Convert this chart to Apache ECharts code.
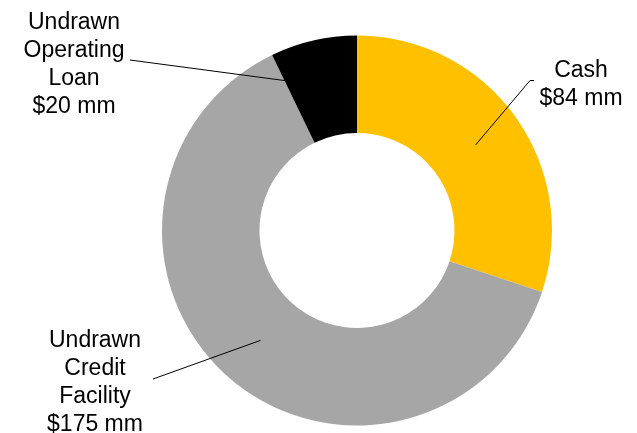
<!DOCTYPE html>
<html>
<head>
<meta charset="utf-8">
<script src="https://cdn.jsdelivr.net/npm/echarts@6/dist/echarts.min.js"></script>
<style>
html,body{margin:0;padding:0;background:#fff;}
#chart{width:637px;height:433px;}
</style>
</head>
<body>
<div id="chart"></div>
<script>
var categories = ['Cash', 'Undrawn Credit Facility', 'Undrawn Operating Loan'];
var values = [84, 175, 20];
var labelTexts = ['Cash\n$84 mm', 'Undrawn\nCredit\nFacility\n$175 mm', 'Undrawn\nOperating\nLoan\n$20 mm'];
var colors = ['#FFC000', '#A6A6A6', '#000000'];

var CX = 357, CY = 230.5, R0 = 97.5, R1 = 195;
var total = values.reduce(function(a, b){ return a + b; }, 0);
var starts = [], acc = 0;
values.forEach(function(v){ starts.push(acc / total * 360); acc += v; });
function pt(angDeg, r){
  var a = angDeg * Math.PI / 180;
  return [CX + r * Math.sin(a), CY - r * Math.cos(a)];
}
// label placement (label centre and leader-line end)
var labelPos = [[581, 85], [95, 383], [74, 65]];
var lineEnds = [[[530, 80.5], [534, 80.5]], [[153, 379]], [[130, 60]]];

function anchor(i){
  var span = values[i] / total * 360;
  if (i === 2) return pt(starts[i] + 0.3, 166);
  return pt(starts[i] + span / 2, (R0 + R1) / 2);
}

var leaderLines = values.map(function(v, i){
  return {
    type: 'polyline',
    z: 100,
    silent: true,
    shape: { points: [anchor(i)].concat(lineEnds[i]) },
    style: { stroke: '#000', lineWidth: 1, fill: null }
  };
});

var chart = echarts.init(document.getElementById('chart'));
chart.setOption({
  animation: false,
  backgroundColor: '#ffffff',
  graphic: { elements: leaderLines },
  series: [{
    type: 'pie',
    center: [CX, CY],
    radius: [R0, R1],
    startAngle: 90,
    clockwise: true,
    avoidLabelOverlap: false,
    silent: true,
    itemStyle: { borderWidth: 0 },
    label: {
      show: true,
      position: 'outside',
      formatter: function(p){ return labelTexts[p.dataIndex]; },
      fontFamily: '"Liberation Sans", Arial, sans-serif',
      fontSize: 23,
      lineHeight: 28,
      color: '#000',
      align: 'center'
    },
    labelLine: { show: false },
    labelLayout: function(p){
      var i = p.dataIndex;
      return {
        x: labelPos[i][0],
        y: labelPos[i][1],
        align: 'center',
        verticalAlign: 'middle'
      };
    },
    data: categories.map(function(c, i){
      return { name: c, value: values[i], itemStyle: { color: colors[i] } };
    })
  }]
});
</script>
</body>
</html>
